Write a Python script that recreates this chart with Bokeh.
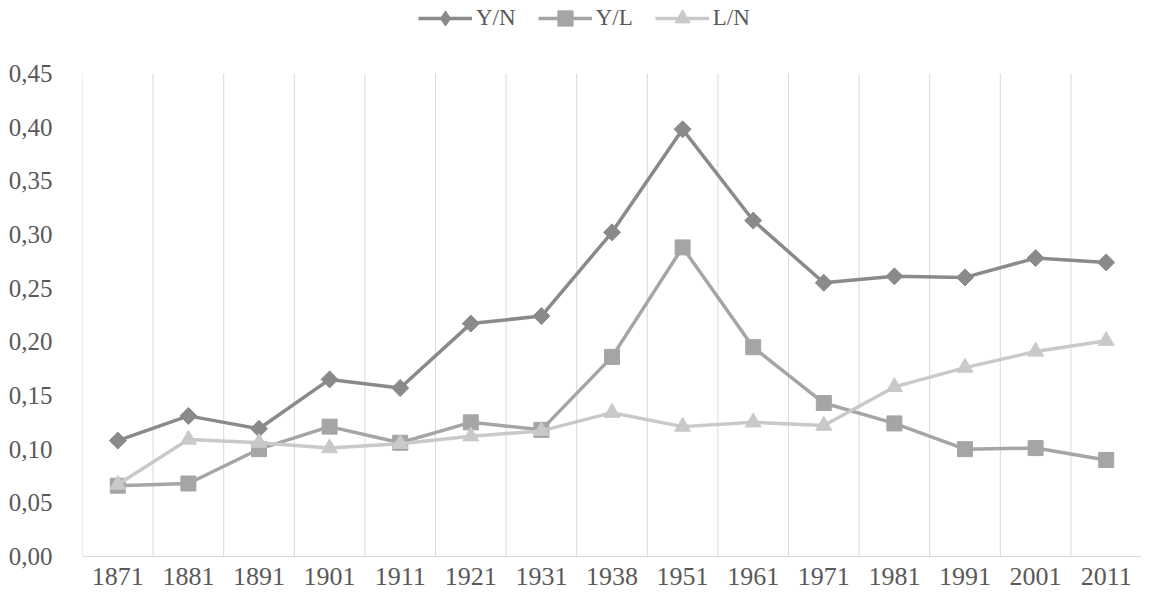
import numpy as np
from bokeh.plotting import figure
from bokeh.models import (FixedTicker, CustomJSTickFormatter, Legend, LegendItem,
                          Range1d)
from bokeh.embed import file_html
from bokeh.resources import INLINE

years = ["1871", "1881", "1891", "1901", "1911", "1921", "1931", "1938",
         "1951", "1961", "1971", "1981", "1991", "2001", "2011"]
y_n = [0.108, 0.131, 0.119, 0.165, 0.157, 0.217, 0.224, 0.302,
       0.398, 0.313, 0.255, 0.261, 0.260, 0.278, 0.274]
y_l = [0.066, 0.068, 0.100, 0.121, 0.106, 0.125, 0.118, 0.186,
       0.288, 0.195, 0.143, 0.124, 0.100, 0.101, 0.090]
l_n = [0.067, 0.109, 0.106, 0.101, 0.105, 0.112, 0.117, 0.134,
       0.121, 0.125, 0.122, 0.158, 0.176, 0.191, 0.201]
y_ticks = [0.0, 0.05, 0.10, 0.15, 0.20, 0.25, 0.30, 0.35, 0.40, 0.45]

FONT = "Liberation Serif"
TXT = "#595959"

W, H = 1141, 594
LEFT, BOTTOM = 82, 38
FRAME_H = H - BOTTOM          # frame spans from the top of the figure
PLOT_TOP = 73                 # pixel where the highest tick sits
y_max = y_ticks[-1]
y_end = y_max * FRAME_H / (FRAME_H - PLOT_TOP)

n = len(years)
x = np.arange(n) + 0.5
bounds = np.arange(n + 1)

p = figure(width=W, height=H, output_backend="svg", toolbar_location=None,
           x_range=Range1d(0, n), y_range=Range1d(0, y_end),
           min_border_left=LEFT, min_border_right=0, min_border_top=0,
           min_border_bottom=BOTTOM)
p.outline_line_color = None
p.background_fill_color = "white"
p.xgrid.visible = False
p.ygrid.visible = False

# vertical category separators (only within the value area)
p.segment(x0=bounds, y0=0, x1=bounds, y1=y_max, line_color="#d9d9d9",
          line_width=1)

# axes
p.xaxis.ticker = FixedTicker(ticks=list(x))
p.xaxis.major_label_overrides = {float(v): yr for v, yr in zip(x, years)}
p.xaxis.axis_line_color = "#d9d9d9"
p.xaxis.axis_line_width = 1
p.xaxis.major_tick_line_color = None
p.xaxis.minor_tick_line_color = None
p.xaxis.major_label_text_font = FONT
p.xaxis.major_label_text_font_size = "26px"
p.xaxis.major_label_text_color = TXT
p.xaxis.major_label_standoff = 5

p.yaxis.ticker = FixedTicker(ticks=y_ticks)
p.yaxis.formatter = CustomJSTickFormatter(code="return tick.toFixed(2).replace('.', ',');")
p.yaxis.axis_line_color = None
p.yaxis.major_tick_line_color = None
p.yaxis.minor_tick_line_color = None
p.yaxis.major_label_text_font = FONT
p.yaxis.major_label_text_font_size = "25px"
p.yaxis.major_label_text_color = TXT
p.yaxis.major_label_standoff = 24

series = [
    # name, values, colour, chart marker, size, angle
    ("Y/N", y_n, "#8a8a8a", "square", 12, np.pi / 4),
    ("Y/L", y_l, "#a5a5a5", "square", 15, 0.0),
    ("L/N", l_n, "#c9c9c9", "triangle", 16, 0.0),
]
items = []
for name, vals, col, mk, sz, ang in series:
    r1 = p.line(x, vals, line_color=col, line_width=3.5)
    r2 = p.scatter(x, vals, marker=mk, size=sz, angle=ang,
                   fill_color=col, line_color=col)
    if ang:
        # legend swatch: a diamond (legend ignores the marker angle)
        r2 = p.scatter(x, vals, marker="diamond", size=0.01,
                       fill_color=col, line_color=col)
    items.append(LegendItem(label=name, renderers=[r1, r2]))

legend = Legend(items=items, orientation="horizontal",
                location=(336, FRAME_H - 18 - 19),
                label_text_font=FONT, label_text_font_size="23px",
                label_text_color=TXT, glyph_width=54, glyph_height=38,
                label_standoff=4, spacing=22, padding=0, margin=0,
                border_line_color=None, background_fill_alpha=0)
p.add_layout(legend, "center")

open("out.html", "w").write(file_html(p, INLINE))
